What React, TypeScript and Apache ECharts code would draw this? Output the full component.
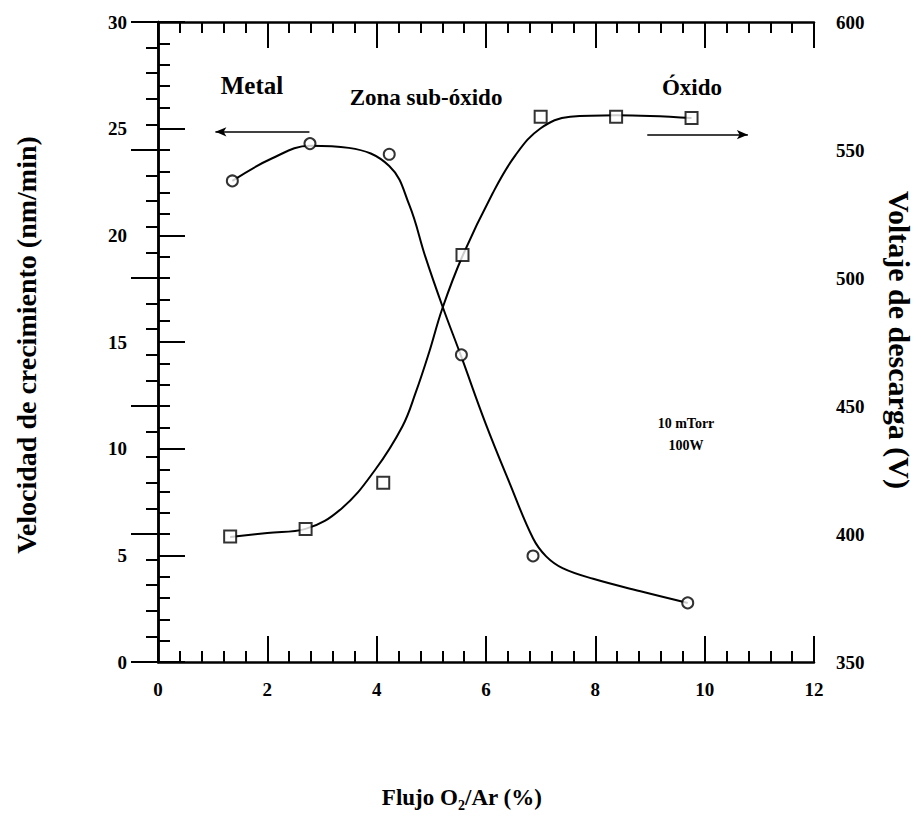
import React, { useEffect, useRef } from "react";
import * as echarts from "echarts";

// Measured points: growth rate (circles, left axis, nm/min)
const velX = [1.36, 2.78, 4.23, 5.55, 6.86, 9.69];
const velY = [22.55, 24.3, 23.8, 14.4, 4.97, 2.77];
// Measured points: discharge voltage (squares, right axis, V)
const voltX = [1.32, 2.7, 4.12, 5.57, 7.0, 8.38, 9.76];
const voltY = [399, 402, 420, 509, 563, 563, 562.5];

// Hand-drawn fit curves
const velFitX = [1.36, 2.08, 2.78, 3.49, 4.23, 4.6, 4.89, 5.2, 5.55, 5.99, 6.43, 6.86, 7.1, 7.4, 7.96, 8.88, 9.69];
const velFitY = [22.55, 23.6, 24.2, 24.1, 23.25, 21.4, 19.0, 16.7, 14.3, 11.2, 8.4, 5.8, 4.95, 4.4, 3.9, 3.28, 2.77];
const voltFitX = [1.32, 2.0, 2.7, 3.36, 3.97, 4.47, 4.71, 4.96, 5.2, 5.57, 6.12, 6.54, 7.0, 7.54, 8.38, 9.76];
const voltFitY = [398.8, 400.4, 402, 410, 425, 442, 455, 471, 488, 508.6, 533, 548, 558.5, 563, 563.6, 562.5];

// Axis ranges
const xRange = [0, 12];
const leftRange = [0, 30];
const rightRange = [350, 600];

// Arrows (data coordinates): left arrow on growth-rate scale, right arrow on voltage scale
const leftArrowX = [2.77, 1.05];
const leftArrowY = 24.85;
const rightArrowX = [8.95, 10.79];
const rightArrowY = 556;

const FONT = "'Liberation Serif', 'Times New Roman', serif";

export default function App() {
  const ref = useRef<HTMLDivElement>(null);
  useEffect(() => {
    document.body.style.margin = "0";
    if (!ref.current) return;
    const chart = echarts.init(ref.current, undefined, { renderer: "svg" });
    const zip = (xs: number[], ys: number[]) => xs.map((x, i) => [x, ys[i]]);
    const axisLine = { show: true, lineStyle: { color: "#000", width: 2.5 } };
    const label = { color: "#000", fontFamily: FONT, fontWeight: "bold" as const, fontSize: 19 };
    const tick = (len: number) => ({ inside: true, length: len, lineStyle: { color: "#000", width: 2 } });
    const minor = (len: number) => ({ show: true, splitNumber: 5, length: len, lineStyle: { color: "#000", width: 2 } });
    const txt = (x: number, y: number, text: string, size: number, extra: any = {}) => ({
      type: "text", x, y, ...extra,
      style: { text, font: `bold ${size}px ${FONT}`, fill: "#000", align: "center", verticalAlign: "middle" },
    });
    const option: any = {
      animation: false,
      backgroundColor: "#fff",
      grid: { left: 158, right: 107, top: 22, bottom: 161 },
      xAxis: [
        {
          type: "value", min: xRange[0], max: xRange[1], interval: 2,
          axisLine, splitLine: { show: false },
          axisTick: tick(26), minorTick: minor(11),
          axisLabel: { ...label, margin: 18 },
        },
        {
          type: "value", position: "top", min: xRange[0], max: xRange[1], interval: 2,
          axisLine, splitLine: { show: false },
          axisTick: tick(26), minorTick: minor(11),
          axisLabel: { show: false },
        },
      ],
      yAxis: [
        {
          type: "value", min: leftRange[0], max: leftRange[1], interval: 5,
          axisLine, splitLine: { show: false },
          axisTick: tick(27), minorTick: minor(12),
          axisLabel: { ...label, margin: 31 },
        },
        {
          type: "value", position: "right", min: rightRange[0], max: rightRange[1], interval: 50,
          axisLine, splitLine: { show: false },
          axisTick: tick(27), minorTick: minor(12),
          axisLabel: { ...label, margin: 22 },
        },
      ],
      series: [
        {
          type: "line", smooth: 0.4, showSymbol: false, symbol: "none", yAxisIndex: 0,
          data: zip(velFitX, velFitY), lineStyle: { color: "#000", width: 2 },
          markLine: {
            silent: true, symbol: ["none", "arrow"], symbolSize: [7, 11], label: { show: false },
            lineStyle: { color: "#000", width: 1.5, type: "solid" },
            data: [[{ coord: [leftArrowX[0], leftArrowY] }, { coord: [leftArrowX[1], leftArrowY] }]],
          },
          z: 2,
        },
        {
          type: "line", smooth: 0.4, showSymbol: false, symbol: "none", yAxisIndex: 1,
          data: zip(voltFitX, voltFitY), lineStyle: { color: "#000", width: 2 },
          markLine: {
            silent: true, symbol: ["none", "arrow"], symbolSize: [7, 11], label: { show: false },
            lineStyle: { color: "#000", width: 1.5, type: "solid" },
            data: [[{ coord: [rightArrowX[0], rightArrowY] }, { coord: [rightArrowX[1], rightArrowY] }]],
          },
          z: 2,
        },
        {
          type: "scatter", yAxisIndex: 0, symbol: "circle", symbolSize: 11,
          data: zip(velX, velY),
          itemStyle: { color: "#fff", borderColor: "#000", borderWidth: 2 }, z: 3,
        },
        {
          type: "scatter", yAxisIndex: 1, symbol: "rect", symbolSize: 12,
          data: zip(voltX, voltY),
          itemStyle: { color: "#fff", borderColor: "#000", borderWidth: 2 }, z: 3,
        },
      ],
      graphic: [
        txt(252, 85, "Metal", 25),
        txt(426, 97, "Zona sub-óxido", 23),
        txt(692, 87, "Óxido", 23),
        txt(686, 423, "10 mTorr", 14),
        txt(686, 445, "100W", 14),
        txt(26, 345, "Velocidad de crecimiento (nm/min)", 28, { rotation: Math.PI / 2 }),
        txt(899, 340, "Voltaje de descarga (V)", 30, { rotation: -Math.PI / 2 }),
        {
          type: "text", x: 462, y: 797,
          style: {
            text: "Flujo O{sub|2}/Ar (%)", fill: "#000", align: "center", verticalAlign: "middle",
            fontFamily: FONT, fontWeight: "bold", fontSize: 23, lineHeight: 30,
            rich: { sub: { fontFamily: FONT, fontWeight: "bold", fontSize: 14, lineHeight: 14, verticalAlign: "bottom" } },
          },
        },
      ],
    };
    chart.setOption(option);
    return () => chart.dispose();
  }, []);
  return <div ref={ref} style={{ width: 921, height: 823 }} />;
}
